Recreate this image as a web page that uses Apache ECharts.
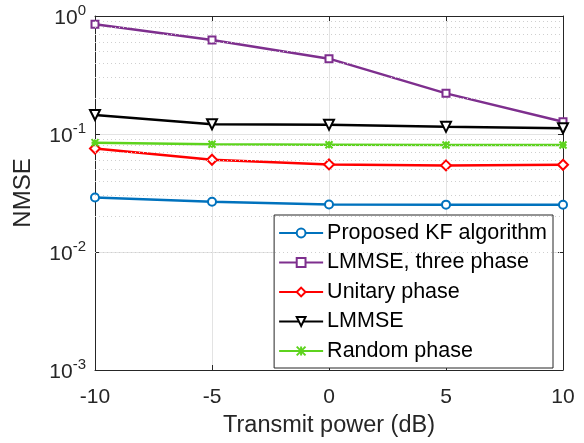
<!DOCTYPE html>
<html>
<head>
<meta charset="utf-8">
<script src="https://cdn.jsdelivr.net/npm/echarts@6/dist/echarts.min.js"></script>
<style>
html, body { margin: 0; padding: 0; background: #fff; }
#main { width: 584px; height: 443px; }
</style>
</head>
<body>
<div id="main"></div>
<script>
// transmit power (dB)
var powers = [-10, -5, 0, 5, 10];
var kfNmse = [0.0290, 0.0267, 0.0253, 0.0252, 0.0251];
var lmmse3Nmse = [0.85, 0.625, 0.435, 0.221, 0.127];
var unitaryNmse = [0.0753, 0.0605, 0.0552, 0.0542, 0.0548];
var lmmseNmse = [0.145, 0.121, 0.120, 0.115, 0.112];
var randomNmse = [0.0845, 0.0819, 0.0812, 0.0806, 0.0806];
var seriesNames = ['Proposed KF algorithm', 'LMMSE, three phase', 'Unitary phase', 'LMMSE', 'Random phase'];
// minor grid levels of the log axis
var minorLevels = [];
[0.001, 0.01, 0.1].forEach(function (d) {
    for (var k = 2; k <= 9; k++) minorLevels.push(+(d * k).toPrecision(3));
});

function pairs(ys) {
    return powers.map(function (x, i) { return [x, ys[i]]; });
}

var axisColor = '#262626';
var font = 'Liberation Sans, Arial, sans-serif';
var chart = echarts.init(document.getElementById('main'));

function mkLine(name, ys, color, symbol, size, extra) {
    var s = {
        name: name,
        type: 'line',
        data: pairs(ys),
        z: 3,
        symbol: symbol,
        symbolSize: size,
        lineStyle: { color: color, width: 2.5 },
        itemStyle: { color: color, borderColor: color, borderWidth: 2 },
        emphasis: { disabled: true }
    };
    if (extra) Object.assign(s, extra);
    return s;
}

chart.setOption({
    animation: false,
    textStyle: { fontFamily: font },
    grid: { left: 95, right: 21, top: 16, bottom: 70 },
    legend: {
        data: seriesNames,
        orient: 'vertical',
        right: 31,
        top: 215,
        padding: [7, 6, 6, 4],
        itemGap: 7.5,
        itemWidth: 44,
        itemHeight: 11,
        backgroundColor: '#fff',
        borderColor: axisColor,
        borderWidth: 1,
        borderRadius: 0,
        textStyle: { fontSize: 21.5, color: '#000', padding: [0, 0, 0, -1] }
    },
    xAxis: [{
        type: 'value',
        min: -10, max: 10, interval: 5,
        name: 'Transmit power (dB)',
        nameLocation: 'middle',
        nameGap: 44,
        nameTextStyle: { fontSize: 23.5, color: axisColor },
        axisLine: { onZero: false, lineStyle: { color: axisColor } },
        axisTick: { inside: true, length: 5, lineStyle: { color: axisColor } },
        axisLabel: { fontSize: 21, color: axisColor, margin: 17 },
        splitLine: { show: true, lineStyle: { color: '#e3e3e3', width: 1 } }
    }, {
        type: 'value',
        position: 'top',
        min: -10, max: 10, interval: 5,
        axisLine: { show: true, onZero: false, lineStyle: { color: axisColor } },
        axisTick: { inside: true, length: 5, lineStyle: { color: axisColor } },
        axisLabel: { show: false },
        splitLine: { show: false }
    }],
    yAxis: [{
        type: 'log',
        logBase: 10,
        min: 0.001, max: 1,
        name: 'NMSE',
        nameLocation: 'middle',
        nameGap: 60,
        nameTextStyle: { fontSize: 24, color: axisColor },
        axisLine: { show: true, onZero: false, lineStyle: { color: axisColor } },
        axisTick: { inside: true, length: 5, lineStyle: { color: axisColor } },
        axisLabel: {
            color: axisColor,
            margin: 9,
            formatter: function (v) {
                return '{b|10}{s|' + Math.round(Math.log10(v)) + '}';
            },
            rich: {
                b: { fontSize: 21, color: axisColor, verticalAlign: 'bottom', fontFamily: font },
                s: { fontSize: 15, color: axisColor, verticalAlign: 'bottom', padding: [0, 0, 11, 0], fontFamily: font }
            }
        },
        splitLine: { show: true, lineStyle: { color: '#e3e3e3', width: 1 } }
    }, {
        type: 'log',
        logBase: 10,
        min: 0.001, max: 1,
        position: 'right',
        axisLine: { show: true, onZero: false, lineStyle: { color: axisColor } },
        axisTick: { inside: true, length: 5, lineStyle: { color: axisColor } },
        axisLabel: { show: false },
        splitLine: { show: false }
    }],
    series: [
        {
            name: 'minor grid',
            type: 'line',
            data: [],
            z: 1,
            markLine: {
                silent: true,
                symbol: 'none',
                label: { show: false },
                lineStyle: { color: '#cfcfcf', type: [1, 3], width: 1 },
                data: minorLevels.map(function (v) { return { yAxis: v }; })
            }
        },
        mkLine(seriesNames[0], kfNmse, '#0072BD', 'emptyCircle', 8),
        mkLine(seriesNames[1], lmmse3Nmse, '#7E2F8E', 'emptyRect', 7),
        mkLine(seriesNames[2], unitaryNmse, '#FF0000', 'emptyDiamond', 10),
        mkLine(seriesNames[3], lmmseNmse, '#000000', 'emptyTriangle', 10, { symbolRotate: 180 }),
        mkLine(seriesNames[4], randomNmse, '#5ED31E', 'path://M0,0L10,10M10,0L0,10M5,0L5,10M0,5L10,5', 7)
    ]
});
</script>
</body>
</html>
